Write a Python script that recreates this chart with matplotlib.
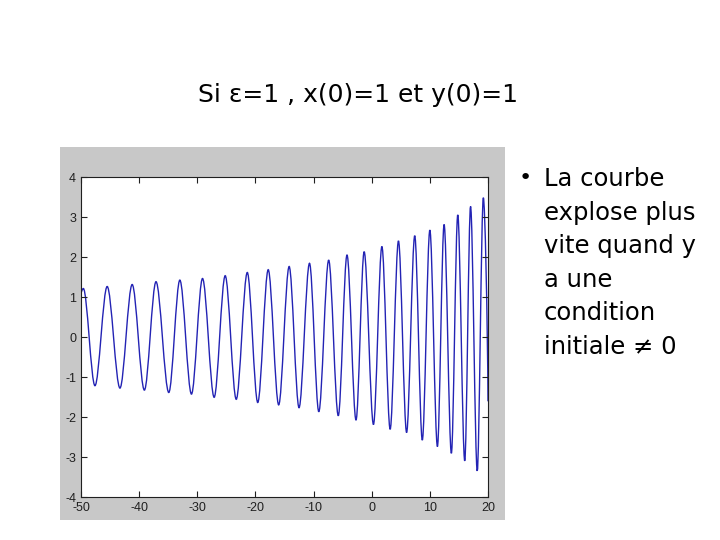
import numpy as np
import matplotlib.pyplot as plt
from matplotlib.path import Path
from matplotlib.patches import PathPatch, Rectangle

plt.rcParams['axes.unicode_minus'] = False

# curve: start point, successive extrema, end point
t_start, x_start = -50.0, 1.10
t_ext = [-49.6, -47.6, -45.5, -43.3, -41.2, -39.1, -37.1, -34.9, -33.0, -31.0,
         -29.1, -27.1, -25.2, -23.3, -21.4, -19.6, -17.8, -16.0, -14.2, -12.5,
         -10.7, -9.1, -7.4, -5.75, -4.25, -2.7, -1.3, 0.3, 1.75, 3.17,
         4.6, 6.0, 7.4, 8.7, 10.0, 11.3, 12.45, 13.7, 14.8, 16.0,
         17.0, 18.15, 19.2]
x_ext = [1.22, -1.21, 1.27, -1.27, 1.32, -1.32, 1.39, -1.38, 1.43, -1.42,
         1.47, -1.50, 1.54, -1.55, 1.62, -1.63, 1.69, -1.69, 1.77, -1.76,
         1.85, -1.86, 1.93, -1.96, 2.06, -2.07, 2.14, -2.18, 2.27, -2.30,
         2.41, -2.38, 2.54, -2.57, 2.68, -2.73, 2.82, -2.90, 3.06, -3.09,
         3.27, -3.34, 3.49]
t_end, x_end = 20.0, -1.60

xticks = [-50, -40, -30, -20, -10, 0, 10, 20]
yticks = [-4, -3, -2, -1, 0, 1, 2, 3, 4]

title = "Si \u03b5=1 , x(0)=1 et y(0)=1"
bullet_lines = ["La courbe", "explose plus", "vite quand y", "a une",
                "condition", "initiale \u2260 0"]

fig = plt.figure(figsize=(7.2, 5.4), dpi=100)
fig.patch.set_facecolor('white')

# grey matlab figure background
fig.patches.append(Rectangle((60 / 720, 1 - 520 / 540), 445 / 720, 373 / 540,
                             transform=fig.transFigure, facecolor='#c8c8c8',
                             edgecolor='none', zorder=-5))

ax = fig.add_axes([81 / 720, 1 - 497.3 / 540, 407 / 720, 320 / 540])
ax.set_zorder(2)
ax.set_facecolor('white')

# smooth curve through the extrema with cubic bezier pieces
pts = [(t_start, x_start)] + list(zip(t_ext, x_ext)) + [(t_end, x_end)]
verts = [pts[0]]
codes = [Path.MOVETO]
n = len(pts) - 1
for i in range(n):
    (ta, ya), (tb, yb) = pts[i], pts[i + 1]
    w = tb - ta
    if i == 0:
        c1 = (ta + w / 3, ya + (yb - ya) * 0.5)
    else:
        c1 = (ta + w / 3, ya)
    if i == n - 1:
        c2 = (tb - w * 0.1, yb + (ya - yb) * 0.4)
    else:
        c2 = (tb - w / 3, yb)
    verts += [c1, c2, (tb, yb)]
    codes += [Path.CURVE4] * 3

ax.add_patch(PathPatch(Path(verts, codes), facecolor='none',
                       edgecolor='#2323b4', lw=1.0))

ax.set_xlim(-50, 20)
ax.set_ylim(-4, 4)
ax.set_xticks(xticks)
ax.set_yticks(yticks)
ax.tick_params(direction='in', top=True, right=True, length=4, width=0.8,
               labelsize=9, colors='#202020')
ax.tick_params(axis='x', pad=3.5)
ax.tick_params(axis='y', pad=3.5)
for lab in ax.get_xticklabels() + ax.get_yticklabels():
    lab.set_fontfamily('Liberation Sans')
for s in ax.spines.values():
    s.set_linewidth(0.8)
    s.set_color('#202020')

fig.text(358 / 720, 1 - 95 / 540, title, ha='center', va='center',
         fontsize=18, family='DejaVu Sans')

fig.text(525 / 720, 1 - 178 / 540, "\u2022", ha='center', va='center',
         fontsize=16, family='DejaVu Sans')
for i, line in enumerate(bullet_lines):
    fig.text(544 / 720, 1 - (179 + 33.6 * i) / 540, line, ha='left',
             va='center', fontsize=17.5, family='DejaVu Sans')

fig.savefig('out.png', dpi=100)
